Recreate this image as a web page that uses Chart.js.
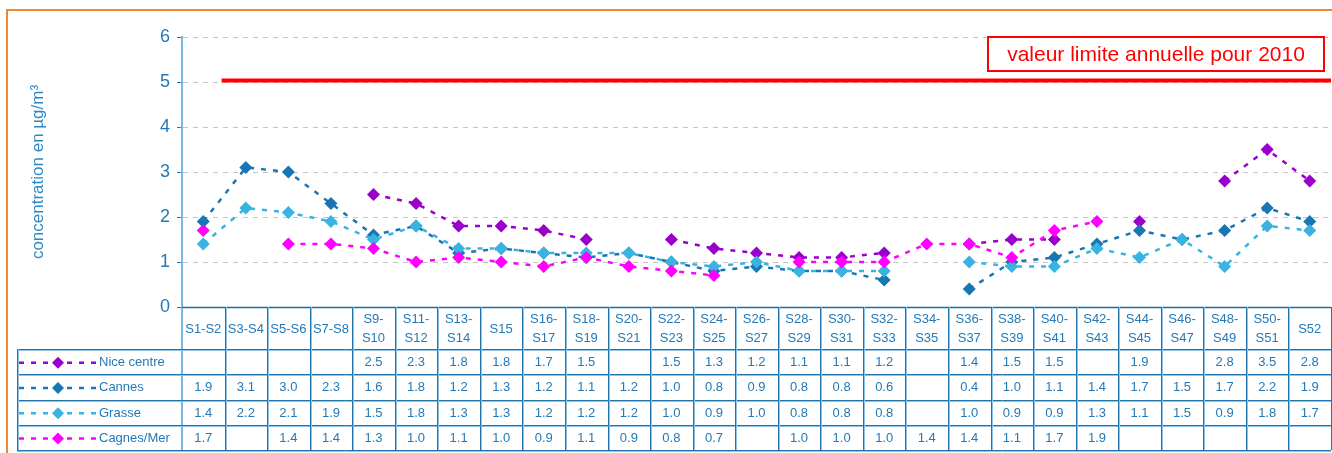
<!DOCTYPE html>
<html>
<head>
<meta charset="utf-8">
<script src="https://cdn.jsdelivr.net/npm/chart.js@4.4.0/dist/chart.umd.min.js"></script>
<style>
html, body { margin: 0; padding: 0; background: #fff; }
#wrap { width: 1332px; height: 453px; position: relative; }
</style>
</head>
<body>
<div id="wrap"><canvas id="chart"></canvas></div>
<script>
// two-week periods
var categories = ['S1-S2','S3-S4','S5-S6','S7-S8','S9-S10','S11-S12','S13-S14','S15','S16-S17','S18-S19',
	'S20-S21','S22-S23','S24-S25','S26-S27','S28-S29','S30-S31','S32-S33','S34-S35','S36-S37','S38-S39',
	'S40-S41','S42-S43','S44-S45','S46-S47','S48-S49','S50-S51','S52'];

var niceCentre = [null,null,null,null,2.5,2.3,1.8,1.8,1.7,1.5,null,1.5,1.3,1.2,1.1,1.1,1.2,null,1.4,1.5,1.5,null,1.9,null,2.8,3.5,2.8];
var cannes     = [1.9,3.1,3.0,2.3,1.6,1.8,1.2,1.3,1.2,1.1,1.2,1.0,0.8,0.9,0.8,0.8,0.6,null,0.4,1.0,1.1,1.4,1.7,1.5,1.7,2.2,1.9];
var grasse     = [1.4,2.2,2.1,1.9,1.5,1.8,1.3,1.3,1.2,1.2,1.2,1.0,0.9,1.0,0.8,0.8,0.8,null,1.0,0.9,0.9,1.3,1.1,1.5,0.9,1.8,1.7];
var cagnes     = [1.7,null,1.4,1.4,1.3,1.0,1.1,1.0,0.9,1.1,0.9,0.8,0.7,null,1.0,1.0,1.0,1.4,1.4,1.1,1.7,1.9,null,null,null,null,null];

var seriesNames  = ['Nice centre','Cannes','Grasse','Cagnes/Mer'];
var seriesValues = [niceCentre, cannes, grasse, cagnes];
var seriesColors = ['#9900cc','#1877b2','#3bb3e1','#ff00ff'];

var yMin = 0, yMax = 6, yStep = 1;
var limitValue = 5;
var limitLabel = 'valeur limite annuelle pour 2010';

var FONT = '"Liberation Sans", Arial, sans-serif';
var BLUE = '#2479b6';
var DASH = [5, 7];

function line(ctx, x1, y1, x2, y2, color, w) {
	ctx.beginPath();
	ctx.strokeStyle = color;
	ctx.lineWidth = w;
	ctx.moveTo(x1, y1);
	ctx.lineTo(x2, y2);
	ctx.stroke();
}

function diamond(ctx, x, y, r, color) {
	ctx.beginPath();
	ctx.moveTo(x, y - r);
	ctx.lineTo(x + r, y);
	ctx.lineTo(x, y + r);
	ctx.lineTo(x - r, y);
	ctx.closePath();
	ctx.fillStyle = color;
	ctx.fill();
}

// data table under the plot + limit line + frame
var tablePlugin = {
	id: 'dataTable',
	afterDatasetsDraw: function(chart) {
		var ctx = chart.ctx, xs = chart.scales.x, ys = chart.scales.y, area = chart.chartArea;
		var ly = ys.getPixelForValue(limitValue) - 1.5;
		ctx.save();
		line(ctx, xs.getPixelForValue(0.43), ly, area.right, ly, '#ff0000', 4);
		// label box
		var bw = 336, bh = 34, bx = area.right - 7 - bw, by = area.top;
		ctx.fillStyle = '#fff';
		ctx.fillRect(bx, by, bw, bh);
		ctx.strokeStyle = '#ff0000';
		ctx.lineWidth = 2;
		ctx.strokeRect(bx, by, bw, bh);
		ctx.fillStyle = '#ff0000';
		ctx.font = '21px ' + FONT;
		ctx.textAlign = 'center';
		ctx.textBaseline = 'middle';
		ctx.fillText(limitLabel, bx + bw / 2, by + bh / 2 + 1);
		ctx.restore();
	},
	afterDraw: function(chart) {
		var ctx = chart.ctx, xs = chart.scales.x, area = chart.chartArea;
		var top = area.bottom, headBottom = top + 42, rowH = 25.25;
		var legLeft = 17, right = area.right;
		var bottom = headBottom + rowH * seriesNames.length;
		var i, j, x, y;
		ctx.save();

		// frame
		line(ctx, 7, 10, chart.width, 10, '#f08733', 2);
		line(ctx, 7, 9, 7, chart.height, '#f08733', 2);

		// y axis continued down through the table
		line(ctx, area.left, top, area.left, bottom, '#7ab8e0', 2);
		// axis zero line
		line(ctx, area.left, top + 0.5, right, top + 0.5, '#1a6fa8', 1.5);

		// horizontal row lines
		for (i = 0; i <= seriesNames.length; i++) {
			y = Math.round(headBottom + rowH * i) + 0.5;
			line(ctx, legLeft, y, right, y, '#2274ae', 1);
			line(ctx, legLeft, y + 1, right, y + 1, '#8cc3e8', 1);
		}
		// column separators
		for (j = 1; j <= categories.length; j++) {
			x = Math.round(xs.getPixelForValue(j - 0.5)) + 0.5;
			line(ctx, x, top, x, bottom, '#2274ae', 1);
			line(ctx, x + 1, top, x + 1, bottom, '#8cc3e8', 1);
		}
		line(ctx, legLeft + 0.5, headBottom, legLeft + 0.5, bottom, '#2274ae', 1);
		line(ctx, legLeft + 1.5, headBottom, legLeft + 1.5, bottom, '#8cc3e8', 1);

		// header labels
		ctx.font = '13px ' + FONT;
		ctx.fillStyle = BLUE;
		ctx.textAlign = 'center';
		ctx.textBaseline = 'middle';
		var mid = (top + headBottom) / 2;
		categories.forEach(function(c, k) {
			var cx = xs.getPixelForValue(k);
			if (c.length > 5) {
				var p = c.indexOf('-');
				ctx.fillText(c.slice(0, p + 1), cx, mid - 9);
				ctx.fillText(c.slice(p + 1), cx, mid + 10);
			} else {
				ctx.fillText(c, cx, mid + 1);
			}
		});

		// legend cells and values
		seriesNames.forEach(function(name, s) {
			var cy = headBottom + rowH * s + rowH / 2 + 1;
			ctx.save();
			ctx.setLineDash(DASH);
			line(ctx, 19, cy, 97, cy, seriesColors[s], 2.5);
			ctx.restore();
			diamond(ctx, 58, cy, 6, seriesColors[s]);
			ctx.font = '13px ' + FONT;
			ctx.fillStyle = BLUE;
			ctx.textAlign = 'left';
			ctx.fillText(name, 99, cy);
			ctx.textAlign = 'center';
			seriesValues[s].forEach(function(v, k) {
				if (v === null) return;
				ctx.fillText(v.toFixed(1), xs.getPixelForValue(k), cy);
			});
		});
		ctx.restore();
	}
};

var datasets = seriesNames.map(function(name, s) {
	return {
		label: name,
		data: seriesValues[s],
		borderColor: seriesColors[s],
		backgroundColor: seriesColors[s],
		borderWidth: 2.5,
		borderDash: DASH,
		pointStyle: 'rectRot',
		pointRadius: 6.5,
		pointBorderWidth: 0,
		pointHoverRadius: 6.5,
		spanGaps: false,
		tension: 0,
		order: seriesNames.length - 1 - s
	};
});

var config = {
	type: 'line',
	data: {
		labels: categories,
		datasets: datasets
	},
	options: {
		responsive: true,
		maintainAspectRatio: false,
		animation: false,
		layout: {
			autoPadding: false,
			padding: { top: 37, bottom: 146, left: 0, right: 1 }
		},
		plugins: {
			legend: { display: false },
			tooltip: { enabled: false },
			title: { display: false }
		},
		scales: {
			x: {
				type: 'category',
				display: false,
				offset: true
			},
			y: {
				min: yMin,
				max: yMax,
				afterFit: function(scale) { scale.width = 182; },
				ticks: {
					stepSize: yStep,
					color: BLUE,
					padding: 7,
					font: { family: FONT, size: 18 }
				},
				grid: {
					color: function(c) { return c.tick && c.tick.value === 0 ? 'rgba(0,0,0,0)' : '#c4c4c4'; },
					lineWidth: 1,
					tickColor: '#2479b6',
					tickLength: 5
				},
				border: {
					display: true,
					color: '#7ab8e0',
					width: 2,
					dash: [5, 5]
				},
				title: {
					display: true,
					text: 'concentration en µg/m³',
					color: '#2e88c4',
					font: { family: FONT, size: 17 },
					padding: { top: 28 }
				}
			}
		}
	},
	plugins: [tablePlugin]
};

window.onload = function() {
	var ctx = document.getElementById('chart').getContext('2d');
	window.myChart = new Chart(ctx, config);
};
</script>
</body>
</html>
